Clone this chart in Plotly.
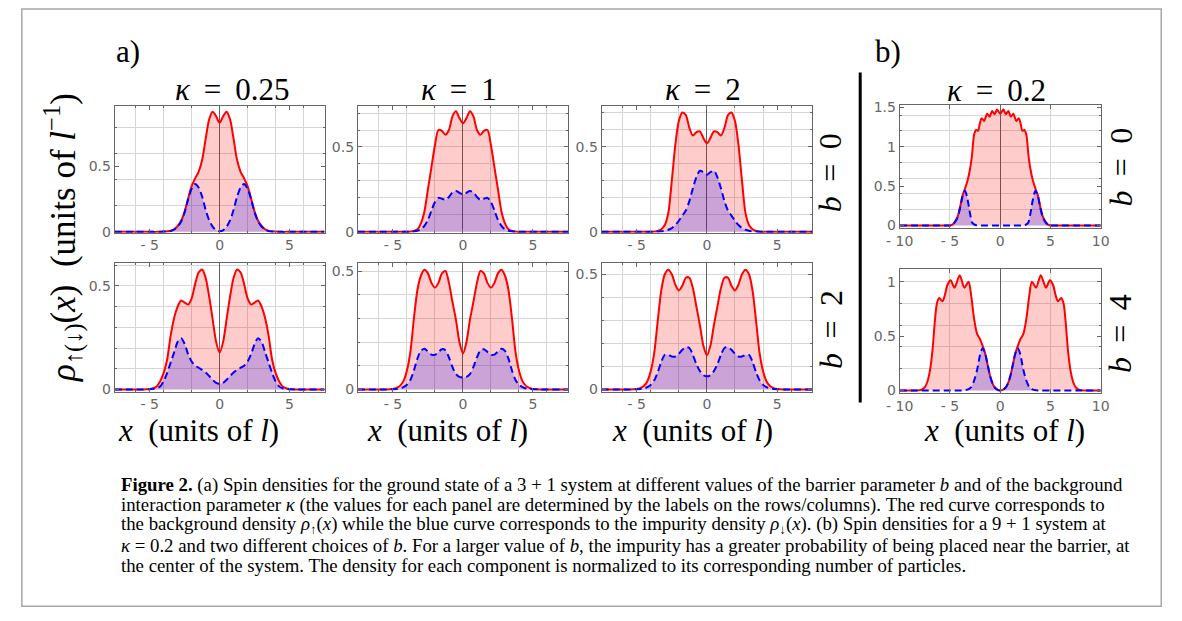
import plotly.graph_objects as go

W, H = 1182, 621

# ---------------- data ----------------
# common x grid for panel (a)  (units of l)
x_a = [-7.5, -6.0, -5.5, -5.0, -4.75, -4.5, -4.25, -4.0, -3.75, -3.5, -3.25, -3.0, -2.75, -2.5,
       -2.25, -2.0, -1.75, -1.5, -1.25, -1.0, -0.75, -0.5, -0.25, 0.0, 0.25, 0.5, 0.75, 1.0,
       1.25, 1.5, 1.75, 2.0, 2.25, 2.5, 2.75, 3.0, 3.25, 3.5, 3.75, 4.0, 4.25, 4.5, 4.75, 5.0,
       5.5, 6.0, 7.5]

# kappa = 0.25, b = 0
up_k025_b0 = [0, 0, 0, 0, 0, 0, 0.001, 0.002, 0.004, 0.008, 0.02, 0.045, 0.085, 0.155, 0.255,
              0.35, 0.41, 0.46, 0.55, 0.71, 0.86, 0.92, 0.885, 0.835, 0.885, 0.92, 0.86, 0.71,
              0.55, 0.46, 0.41, 0.35, 0.255, 0.155, 0.085, 0.045, 0.02, 0.008, 0.004, 0.002,
              0.001, 0, 0, 0, 0, 0, 0]
dn_k025_b0 = [0, 0, 0, 0, 0, 0, 0.001, 0.002, 0.003, 0.006, 0.018, 0.04, 0.08, 0.15, 0.25,
              0.33, 0.367, 0.34, 0.27, 0.17, 0.09, 0.04, 0.012, 0.005, 0.012, 0.04, 0.09, 0.17,
              0.27, 0.34, 0.367, 0.33, 0.25, 0.15, 0.08, 0.04, 0.018, 0.006, 0.003, 0.002,
              0.001, 0, 0, 0, 0, 0, 0]
# kappa = 1, b = 0
up_k1_b0 = [0, 0, 0, 0, 0, 0, 0, 0, 0.002, 0.005, 0.015, 0.05, 0.12, 0.25, 0.38, 0.51, 0.60,
            0.595, 0.572, 0.60, 0.68, 0.71, 0.67, 0.64, 0.67, 0.71, 0.68, 0.60, 0.572, 0.595,
            0.60, 0.51, 0.38, 0.25, 0.12, 0.05, 0.015, 0.005, 0.002, 0, 0, 0, 0, 0, 0, 0, 0]
dn_k1_b0 = [0, 0, 0, 0, 0, 0, 0, 0, 0.001, 0.003, 0.006, 0.015, 0.035, 0.07, 0.125, 0.175, 0.20,
            0.195, 0.188, 0.205, 0.232, 0.24, 0.23, 0.22, 0.23, 0.24, 0.232, 0.205, 0.188, 0.195,
            0.20, 0.175, 0.125, 0.07, 0.035, 0.015, 0.006, 0.003, 0.001, 0, 0, 0, 0, 0, 0, 0, 0]
# kappa = 2, b = 0
up_k2_b0 = [0, 0, 0, 0, 0, 0, 0, 0, 0.002, 0.005, 0.015, 0.04, 0.11, 0.30, 0.51, 0.65, 0.70,
            0.685, 0.61, 0.565, 0.585, 0.59, 0.55, 0.52, 0.55, 0.59, 0.585, 0.565, 0.61, 0.685,
            0.70, 0.65, 0.51, 0.30, 0.11, 0.04, 0.015, 0.005, 0.002, 0, 0, 0, 0, 0, 0, 0, 0]
dn_k2_b0 = [0, 0, 0, 0, 0, 0, 0, 0, 0.001, 0.002, 0.003, 0.006, 0.012, 0.022, 0.04, 0.065, 0.095,
            0.125, 0.18, 0.255, 0.32, 0.358, 0.35, 0.335, 0.35, 0.358, 0.32, 0.255, 0.18, 0.125,
            0.095, 0.065, 0.04, 0.022, 0.012, 0.006, 0.003, 0.002, 0.001, 0, 0, 0, 0, 0, 0, 0, 0]
# kappa = 0.25, b = 2
up_k025_b2 = [0, 0, 0, 0.002, 0.006, 0.015, 0.04, 0.08, 0.145, 0.26, 0.345, 0.40, 0.43, 0.42,
              0.41, 0.44, 0.51, 0.565, 0.58, 0.54, 0.45, 0.34, 0.23, 0.178, 0.23, 0.34, 0.45,
              0.54, 0.58, 0.565, 0.51, 0.44, 0.41, 0.42, 0.43, 0.40, 0.345, 0.26, 0.145, 0.08,
              0.04, 0.015, 0.006, 0.002, 0, 0, 0]
dn_k025_b2 = [0, 0, 0, 0.001, 0.003, 0.006, 0.015, 0.04, 0.08, 0.13, 0.18, 0.23, 0.248, 0.22,
              0.17, 0.135, 0.115, 0.105, 0.095, 0.082, 0.065, 0.047, 0.032, 0.027, 0.032, 0.047,
              0.065, 0.082, 0.095, 0.105, 0.115, 0.135, 0.17, 0.22, 0.248, 0.23, 0.18, 0.13,
              0.08, 0.04, 0.015, 0.006, 0.003, 0.001, 0, 0, 0]
# kappa = 1, b = 2
up_k1_b2 = [0, 0, 0, 0.002, 0.006, 0.015, 0.035, 0.08, 0.16, 0.30, 0.42, 0.48, 0.505, 0.49, 0.45,
            0.43, 0.45, 0.49, 0.50, 0.45, 0.37, 0.295, 0.20, 0.152, 0.20, 0.295, 0.37, 0.45,
            0.50, 0.49, 0.45, 0.43, 0.45, 0.49, 0.505, 0.48, 0.42, 0.30, 0.16, 0.08, 0.035,
            0.015, 0.006, 0.002, 0, 0, 0]
dn_k1_b2 = [0, 0, 0, 0.001, 0.002, 0.004, 0.01, 0.02, 0.04, 0.08, 0.13, 0.163, 0.172, 0.16,
            0.147, 0.146, 0.158, 0.17, 0.165, 0.135, 0.095, 0.065, 0.053, 0.05, 0.053, 0.065,
            0.095, 0.135, 0.165, 0.17, 0.158, 0.146, 0.147, 0.16, 0.172, 0.163, 0.13, 0.08,
            0.04, 0.02, 0.01, 0.004, 0.002, 0.001, 0, 0, 0]
# kappa = 2, b = 2
up_k2_b2 = [0, 0, 0, 0.002, 0.006, 0.015, 0.035, 0.08, 0.16, 0.30, 0.43, 0.50, 0.52, 0.50, 0.455,
            0.43, 0.45, 0.485, 0.485, 0.44, 0.36, 0.28, 0.19, 0.149, 0.19, 0.28, 0.36, 0.44,
            0.485, 0.485, 0.45, 0.43, 0.455, 0.50, 0.52, 0.50, 0.43, 0.30, 0.16, 0.08, 0.035,
            0.015, 0.006, 0.002, 0, 0, 0]
dn_k2_b2 = [0, 0, 0, 0.001, 0.002, 0.004, 0.01, 0.02, 0.04, 0.075, 0.12, 0.15, 0.15, 0.143,
            0.143, 0.155, 0.172, 0.183, 0.18, 0.15, 0.11, 0.08, 0.062, 0.057, 0.062, 0.08, 0.11,
            0.15, 0.18, 0.183, 0.172, 0.155, 0.143, 0.143, 0.15, 0.15, 0.12, 0.075, 0.04, 0.02,
            0.01, 0.004, 0.002, 0.001, 0, 0, 0]

# panel (b): 9 + 1 system, kappa = 0.2
x_b0 = [-10.0, -6.0, -5.5, -5.0, -4.75, -4.5, -4.25, -4.0, -3.75, -3.5, -3.25, -3.0, -2.8, -2.6,
        -2.4, -2.2, -2.05, -1.85, -1.6, -1.3, -1.05, -0.81, -0.55, -0.32, 0.0, 0.32, 0.55, 0.81,
        1.05, 1.3, 1.6, 1.85, 2.05, 2.2, 2.4, 2.6, 2.8, 3.0, 3.25, 3.5, 3.75, 4.0, 4.25, 4.5,
        4.75, 5.0, 5.5, 6.0, 10.0]
up_k02_b0 = [0, 0, 0, 0.002, 0.012, 0.05, 0.11, 0.23, 0.38, 0.47, 0.57, 0.72, 0.90, 1.15, 1.21,
             1.20, 1.28, 1.36, 1.325, 1.417, 1.38, 1.45, 1.41, 1.47,
             1.417,
             1.47, 1.41, 1.45, 1.38, 1.417, 1.325, 1.36, 1.28, 1.20, 1.21, 1.15, 0.90, 0.72,
             0.57, 0.47, 0.38, 0.23, 0.11, 0.05, 0.012, 0.002, 0, 0, 0]
dn_k02_b0 = [0, 0, 0, 0.001, 0.01, 0.045, 0.10, 0.22, 0.37, 0.44, 0.33, 0.15, 0.04, 0.015, 0.005,
             0.002, 0.001, 0, 0, 0, 0, 0, 0, 0,
             0,
             0, 0, 0, 0, 0, 0, 0, 0.001, 0.002, 0.005, 0.015, 0.04, 0.15, 0.33, 0.44, 0.37,
             0.22, 0.10, 0.045, 0.01, 0.001, 0, 0, 0]

x_b4 = [-10.0, -8.5, -8.0, -7.75, -7.5, -7.25, -7.0, -6.75, -6.5, -6.3, -6.07, -5.75, -5.5, -5.26,
        -4.94, -4.55, -4.03, -3.57, -3.15, -2.9, -2.6, -2.3, -2.0, -1.75, -1.5, -1.25, -1.0,
        -0.75, -0.5, -0.25, 0.0, 0.25, 0.5, 0.75, 1.0, 1.25, 1.5, 1.75, 2.0, 2.3, 2.6, 2.9, 3.15,
        3.57, 4.03, 4.55, 4.94, 5.26, 5.5, 5.75, 6.07, 6.3, 6.5, 6.75, 7.0, 7.25, 7.5, 7.75, 8.0,
        8.5, 10.0]
up_k02_b4 = [0, 0, 0.003, 0.01, 0.03, 0.08, 0.18, 0.36, 0.64, 0.80, 0.85, 0.82, 0.88, 0.97, 1.015,
             0.946, 1.06, 0.946, 1.0, 0.88, 0.66, 0.52, 0.47, 0.41, 0.34, 0.235, 0.13, 0.06,
             0.022, 0.006,
             0,
             0.006, 0.022, 0.06, 0.13, 0.235, 0.34, 0.41, 0.47, 0.52, 0.66, 0.88, 1.0, 0.946,
             1.06, 0.946, 1.015, 0.97, 0.88, 0.82, 0.85, 0.80, 0.64, 0.36, 0.18, 0.08, 0.03,
             0.01, 0.003, 0, 0]
dn_k02_b4 = [0, 0, 0, 0, 0, 0, 0, 0, 0, 0, 0, 0, 0, 0, 0, 0, 0, 0.001, 0.012, 0.03, 0.09, 0.19,
             0.33, 0.39, 0.34, 0.235, 0.13, 0.06, 0.022, 0.006,
             0,
             0.006, 0.022, 0.06, 0.13, 0.235, 0.34, 0.39, 0.33, 0.19, 0.09, 0.03, 0.012, 0.001,
             0, 0, 0, 0, 0, 0, 0, 0, 0, 0, 0, 0, 0, 0, 0, 0, 0]

SP = "\u2009"  # thin space, mimics wider math spacing around "="
col_kappa = ["<i>κ</i> " + SP + "= " + SP + "0.25", "<i>κ</i> " + SP + "= " + SP + "1",
             "<i>κ</i> " + SP + "= " + SP + "2"]
row_b_a = ["<i>b</i> " + SP + "= " + SP + "0", "<i>b</i> " + SP + "= " + SP + "2"]
row_b_b = ["<i>b</i> " + SP + "= " + SP + "0", "<i>b</i> " + SP + "= " + SP + "4"]
title_b = "<i>κ</i> " + SP + "= " + SP + "0.2"

ticks_a_x = [-5, 0, 5]
ticks_a_xt = ["- 5", "0", "5"]
grid_a_x = [-6, -4, -2, 2, 4, 6]
ticks_b_x = [-10, -5, 0, 5, 10]
ticks_b_xt = ["- 10", "- 5", "0", "5", "10"]
grid_b_x = [-5, 5]

# ---------------- helpers ----------------
def fx(p):
    return p / W

def fy(p):
    return 1 - p / H

RED = "#ff0000"
BLUE = "#0000ff"
TICKC = "#666666"
GRIDC = "#d6d6d6"

panels = [
    (x_a, up_k025_b0, dn_k025_b0, (102.7, 316.7), (101.7, 231.5), [-7.5, 7.5], [-0.006, 0.967],
     [0, 0.5], ["0", "0.5"], [0.2, 0.4, 0.6, 0.8], ticks_a_x, ticks_a_xt, grid_a_x),
    (x_a, up_k1_b0, dn_k1_b0, (350.7, 565.0), (101.7, 231.5), [-7.5, 7.5], [-0.005, 0.744],
     [0, 0.5], ["0", "0.5"], [0.1, 0.2, 0.3, 0.4, 0.5, 0.6, 0.7], ticks_a_x, ticks_a_xt, grid_a_x),
    (x_a, up_k2_b0, dn_k2_b0, (599.3, 814.0), (101.7, 231.5), [-7.5, 7.5], [-0.005, 0.741],
     [0, 0.5], ["0", "0.5"], [0.1, 0.2, 0.3, 0.4, 0.5, 0.6, 0.7], ticks_a_x, ticks_a_xt, grid_a_x),
    (x_a, up_k025_b2, dn_k025_b2, (102.7, 316.7), (262.7, 393.8), [-7.5, 7.5], [-0.01, 0.61],
     [0, 0.5], ["0", "0.5"], [0.1, 0.2, 0.3, 0.4, 0.5, 0.6], ticks_a_x, ticks_a_xt, grid_a_x),
    (x_a, up_k1_b2, dn_k1_b2, (350.7, 565.0), (262.7, 393.8), [-7.5, 7.5], [-0.009, 0.533],
     [0, 0.5], ["0", "0.5"], [0.1, 0.2, 0.3, 0.4, 0.5], ticks_a_x, ticks_a_xt, grid_a_x),
    (x_a, up_k2_b2, dn_k2_b2, (599.3, 814.0), (262.7, 393.8), [-7.5, 7.5], [-0.009, 0.548],
     [0, 0.5], ["0", "0.5"], [0.1, 0.2, 0.3, 0.4, 0.5], ticks_a_x, ticks_a_xt, grid_a_x),
    (x_b0, up_k02_b0, dn_k02_b0, (903.3, 1108.3), (100.7, 226.7), [-10, 10], [-0.03, 1.532],
     [0, 0.5, 1, 1.5], ["0", "0.5", "1", "1.5"], [0.2, 0.4, 0.6, 0.8, 1.0, 1.2, 1.4],
     ticks_b_x, ticks_b_xt, grid_b_x),
    (x_b4, up_k02_b4, dn_k02_b4, (903.3, 1108.3), (269.0, 395.0), [-10, 10], [-0.021, 1.114],
     [0, 0.5, 1], ["0", "0.5", "1"], [0.2, 0.4, 0.6, 0.8, 1.0],
     ticks_b_x, ticks_b_xt, grid_b_x),
]

fig = go.Figure()
layout = {}
for i, (xd, up, dn, xp, yp, xr, yr, ytv, ytt, ygr, xtv, xtt, xgr) in enumerate(panels):
    n = "" if i == 0 else str(i + 1)
    xa, ya = "x" + n, "y" + n
    fig.add_trace(go.Scatter(x=xd, y=up, xaxis=xa, yaxis=ya, mode="lines",
                             line=dict(color=RED, width=2, shape="spline", smoothing=0.8),
                             fill="tozeroy", fillcolor="rgba(255,0,0,0.2)", hoverinfo="skip"))
    fig.add_trace(go.Scatter(x=xd, y=dn, xaxis=xa, yaxis=ya, mode="lines",
                             line=dict(color=BLUE, width=2, dash="7px,4px", shape="spline",
                                       smoothing=0.8),
                             fill="tozeroy", fillcolor="rgba(0,0,255,0.2)", hoverinfo="skip"))
    common = dict(showline=True, mirror="ticks", linecolor=TICKC, linewidth=1,
                  ticks="inside", ticklen=4, tickcolor=TICKC,
                  tickfont=dict(family="DejaVu Sans", size=14, color=TICKC),
                  showgrid=False)
    layout["xaxis" + n] = dict(
        domain=[fx(xp[0]), fx(xp[1])], anchor=ya, range=xr, tickmode="array",
        tickvals=xtv, ticktext=xtt, zeroline=True, zerolinecolor="#606060", zerolinewidth=1,
        minor=dict(tickmode="array", tickvals=xgr, showgrid=True, gridcolor=GRIDC,
                   gridwidth=1, ticks="inside", ticklen=2, tickcolor=TICKC),
        **common)
    layout["yaxis" + n] = dict(
        domain=[fy(yp[1]), fy(yp[0])], anchor=xa, range=yr, tickmode="array",
        tickvals=ytv, ticktext=ytt, zeroline=False,
        minor=dict(tickmode="array", tickvals=ygr, showgrid=True, gridcolor=GRIDC,
                   gridwidth=1, ticks="inside", ticklen=2, tickcolor=TICKC),
        **common)

SERIF = "Liberation Serif"
ann = []

def text(x, y, s, size=30, angle=0, xanchor="center", yanchor="middle", family=SERIF, color="black"):
    ann.append(dict(x=fx(x), y=fy(y), xref="paper", yref="paper", text=s, showarrow=False,
                    textangle=angle, xanchor=xanchor, yanchor=yanchor,
                    font=dict(family=family, size=size, color=color)))

text(116, 46, "a)", size=31)
text(891, 46, "b)", size=31)
for cx, s in zip([223, 454, 703], col_kappa):
    text(cx, 85, s, size=31)
text(1002, 86, title_b, size=31)
text(833, 170, row_b_a[0], size=32, angle=-90)
text(833, 330, row_b_a[1], size=32, angle=-90)
text(1128, 165, row_b_b[0], size=32, angle=-90)
text(1128, 335, row_b_b[1], size=32, angle=-90)
text(50, 237, "<i>ρ</i><sub>↑(↓)</sub>(<i>x</i>)  (units of <i>l</i><sup>−1</sup>)", size=35, angle=-90)
for cx in [188, 442, 692, 1010]:
    text(cx, 434, "<i>x</i>  (units of <i>l</i>)", size=31)

caption = [
    "<b>Figure 2.</b> (a) Spin densities for the ground state of a 3 + 1 system at different values of the barrier parameter <i>b</i> and of the background",
    "interaction parameter <i>κ</i> (the values for each panel are determined by the labels on the rows/columns). The red curve corresponds to",
    "the background density <i>ρ</i><sub>↑</sub>(<i>x</i>) while the blue curve corresponds to the impurity density <i>ρ</i><sub>↓</sub>(<i>x</i>). (b) Spin densities for a 9 + 1 system at",
    "<i>κ</i> = 0.2 and two different choices of <i>b</i>. For a larger value of <i>b</i>, the impurity has a greater probability of being placed near the barrier, at",
    "the center of the system. The density for each component is normalized to its corresponding number of particles.",
]
for k, line in enumerate(caption):
    text(107, 489 + k * 20.6, line, size=18.8, xanchor="left")

shapes = [
    dict(type="rect", xref="paper", yref="paper", x0=fx(8), x1=fx(1170), y0=fy(613), y1=fy(3),
         line=dict(color="#a8a8a8", width=1.5), fillcolor="rgba(0,0,0,0)"),
    dict(type="line", xref="paper", yref="paper", x0=fx(863), x1=fx(863), y0=fy(68), y1=fy(405),
         line=dict(color="black", width=3)),
]

fig.update_layout(width=W, height=H, autosize=False, margin=dict(l=0, r=0, t=0, b=0),
                  paper_bgcolor="white", plot_bgcolor="white", showlegend=False,
                  annotations=ann, shapes=shapes, **layout)
fig.write_html("out.html")
